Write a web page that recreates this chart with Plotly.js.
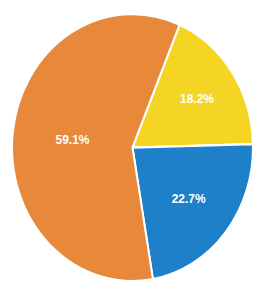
<!DOCTYPE html>
<html>
<head>
<meta charset="utf-8">
<script src="https://cdn.plot.ly/plotly-3.0.1.min.js"></script>
<style>
html,body{margin:0;padding:0;background:#fff;overflow:hidden;}
#chart{width:256px;height:283px;transform:scaleY(1.108);transform-origin:50% 147px;}
</style>
</head>
<body>
<div id="chart"></div>
<script>
var labels = ["Yellow", "Blue", "Orange"];
var values = [18.2, 22.7, 59.1];
var colors = ["#f4d524", "#1d80c8", "#e8883a"];

Plotly.newPlot("chart", [{
  type: "pie",
  labels: labels,
  values: values,
  sort: false,
  direction: "clockwise",
  rotation: 23,
  marker: {colors: colors, line: {color: "#ffffff", width: 2}},
  textinfo: "percent",
  texttemplate: "%{value:.1f}%",
  textposition: "inside",
  insidetextorientation: "horizontal",
  textfont: {family: "Liberation Sans, Arial, sans-serif", size: 12, color: "#ffffff", weight: "bold"},
  hoverinfo: "none",
  showlegend: false
}], {
  width: 256,
  height: 283,
  margin: {l: 12, r: 3, t: 27, b: 15},
  paper_bgcolor: "#ffffff",
  plot_bgcolor: "#ffffff",
  showlegend: false
}, {staticPlot: true, displayModeBar: false});
</script>
</body>
</html>
